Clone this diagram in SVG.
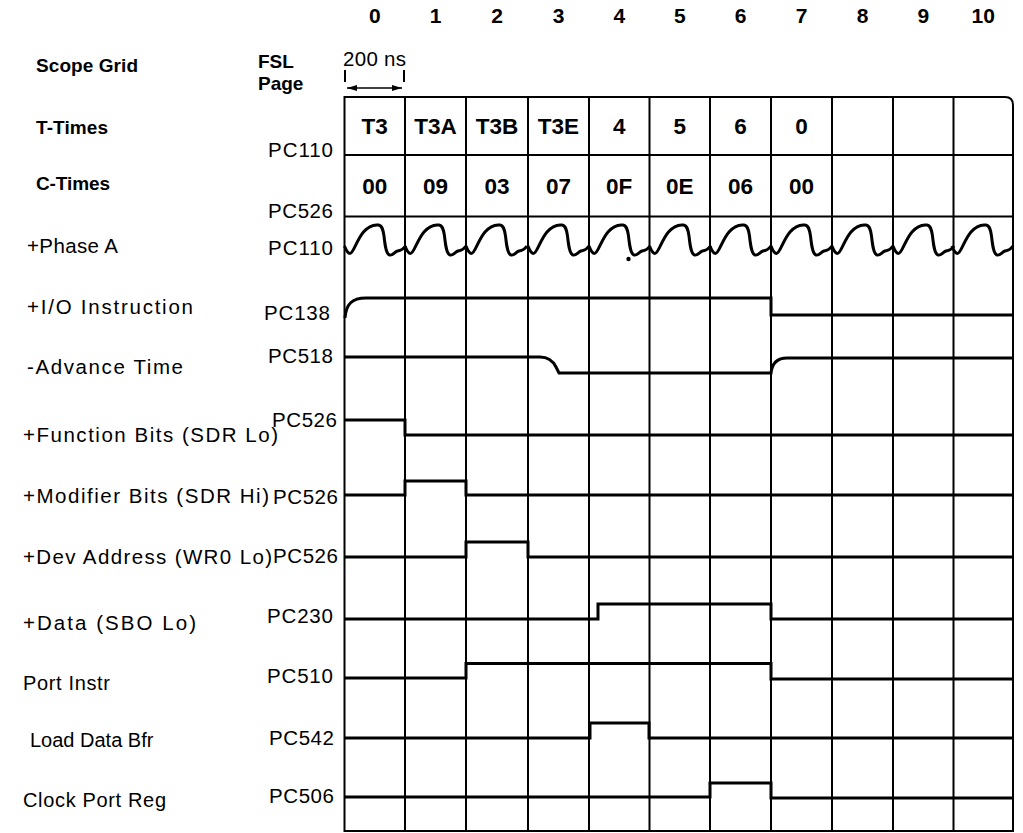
<svg xmlns="http://www.w3.org/2000/svg" xmlns:xlink="http://www.w3.org/1999/xlink" width="1023" height="833" viewBox="0 0 1023 833">
<style>
.grid{stroke:#000;stroke-width:2;fill:none}
.sig{stroke:#000;stroke-width:3;fill:none;stroke-linejoin:miter}
.t{font-family:"Liberation Sans",Arial,Helvetica,sans-serif;font-size:20.5px;fill:#000}
.s{font-size:20px}
.b{font-weight:bold;font-size:19px}
.c{font-family:"Liberation Sans",Arial,Helvetica,sans-serif;font-size:22.5px;font-weight:bold;text-anchor:middle;fill:#000}
.n{font-family:"Liberation Sans",Arial,Helvetica,sans-serif;font-size:21px;font-weight:bold;text-anchor:middle;fill:#000}
</style>
<defs>
<marker id="ah" viewBox="0 0 10 6" refX="10" refY="3" markerWidth="10" markerHeight="6" markerUnits="userSpaceOnUse" orient="auto-start-reverse">
<path d="M0,0 L10,3 L0,6 Z" fill="#000"/>
</marker>
<path id="cyc" class="sig" d="M0,246 C1.5,250 3,253.5 5.5,253.5 C9,253.5 12,240 19,232 C25,225 30,224.5 34,225 C37.5,225.5 38.5,229 39.5,236 C40.5,245 41.5,254 45,255 C48,256 50,252 53,251 C56,250.5 59,249 61,246"/>
</defs>
<rect width="1023" height="833" fill="#fff"/>

<g id="header">
<text class="n" x="374.75" y="23">0</text>
<text class="n" x="435.5" y="23">1</text>
<text class="n" x="497" y="23">2</text>
<text class="n" x="558.5" y="23">3</text>
<text class="n" x="619.25" y="23">4</text>
<text class="n" x="679.75" y="23">5</text>
<text class="n" x="740.5" y="23">6</text>
<text class="n" x="801.5" y="23">7</text>
<text class="n" x="862.5" y="23">8</text>
<text class="n" x="923.25" y="23">9</text>
<text class="n" x="983.25" y="23">10</text>
<text class="t b" x="36" y="72" textLength="102" lengthAdjust="spacing">Scope Grid</text>
<text class="t b" x="258" y="68">FSL</text>
<text class="t b" x="258" y="90">Page</text>
<text class="t" x="343" y="66" textLength="63" lengthAdjust="spacing">200 ns</text>
</g>

<g id="grid">
<path class="grid" d="M344.5,97 H1005 Q1013,97 1013,105 V831 H344.5 Z"/>
<path class="grid" d="M405,97 V831 M466,97 V831 M528,97 V831 M589,97 V831 M649.5,97 V831 M710,97 V831 M771,97 V831 M832,97 V831 M893,97 V831 M953.5,97 V831"/>
<path class="grid" d="M344.5,155 H1013 M344.5,216.5 H1013"/>
</g>

<g id="connectors">
<path class="grid" d="M345,70 V82 M404,70 V82"/>
<path d="M347,88 H402" stroke="#000" stroke-width="1.6" fill="none" marker-start="url(#ah)" marker-end="url(#ah)"/>
</g>

<g id="t-times">
<text class="t b" x="36" y="134" textLength="72" lengthAdjust="spacing">T-Times</text>
<text class="t" x="268" y="157" textLength="65" lengthAdjust="spacing">PC110</text>
<text class="c" x="374.75" y="134">T3</text>
<text class="c" x="435.5" y="134">T3A</text>
<text class="c" x="497" y="134">T3B</text>
<text class="c" x="558.5" y="134">T3E</text>
<text class="c" x="619.25" y="134">4</text>
<text class="c" x="679.75" y="134">5</text>
<text class="c" x="740.5" y="134">6</text>
<text class="c" x="801.5" y="134">0</text>
</g>

<g id="c-times">
<text class="t b" x="36" y="190" textLength="74" lengthAdjust="spacing">C-Times</text>
<text class="t" x="268" y="218" textLength="65" lengthAdjust="spacing">PC526</text>
<text class="c" x="374.75" y="194">00</text>
<text class="c" x="435.5" y="194">09</text>
<text class="c" x="497" y="194">03</text>
<text class="c" x="558.5" y="194">07</text>
<text class="c" x="619.25" y="194">0F</text>
<text class="c" x="679.75" y="194">0E</text>
<text class="c" x="740.5" y="194">06</text>
<text class="c" x="801.5" y="194">00</text>
</g>

<g id="phase-a">
<text class="t" x="27" y="253" textLength="91" lengthAdjust="spacing">+Phase A</text>
<text class="t" x="268" y="255" textLength="65" lengthAdjust="spacing">PC110</text>
<use xlink:href="#cyc" x="344.5"/>
<use xlink:href="#cyc" x="405"/>
<use xlink:href="#cyc" x="466"/>
<use xlink:href="#cyc" x="528"/>
<use xlink:href="#cyc" x="589"/>
<use xlink:href="#cyc" x="649.5"/>
<use xlink:href="#cyc" x="710"/>
<use xlink:href="#cyc" x="771"/>
<use xlink:href="#cyc" x="832"/>
<use xlink:href="#cyc" x="893"/>
<use xlink:href="#cyc" x="952"/>
<circle cx="628.5" cy="259" r="2.2" fill="#000"/>
</g>

<g id="io-instruction">
<text class="t" x="27" y="314" textLength="166" lengthAdjust="spacing">+I/O Instruction</text>
<text class="t" x="264" y="320" textLength="66" lengthAdjust="spacing">PC138</text>
<path class="sig" d="M345,318 C346,304 352,298 366,298 H771 V315 H1013"/>
</g>

<g id="advance-time">
<text class="t" x="27" y="374" textLength="156" lengthAdjust="spacing">-Advance Time</text>
<text class="t" x="268" y="363" textLength="65" lengthAdjust="spacing">PC518</text>
<path class="sig" d="M344.5,357 H540 C548,357 553,361 556,367 L559,373 H771 C772,364 776,358 787,358 H1013"/>
</g>

<g id="function-bits">
<text class="t" x="23" y="442" textLength="255" lengthAdjust="spacing">+Function Bits (SDR Lo)</text>
<text class="t" x="272" y="427" textLength="65" lengthAdjust="spacing">PC526</text>
<path class="sig" d="M344.5,420 H405 V435 H1013"/>
</g>

<g id="modifier-bits">
<text class="t" x="23" y="503" textLength="246" lengthAdjust="spacing">+Modifier Bits (SDR Hi)</text>
<text class="t" x="273" y="504" textLength="65" lengthAdjust="spacing">PC526</text>
<path class="sig" d="M344.5,495 H405 V481 H466 V495 H1013"/>
</g>

<g id="dev-address">
<text class="t" x="23" y="564" textLength="249" lengthAdjust="spacing">+Dev Address (WR0 Lo)</text>
<text class="t" x="273" y="563" textLength="65" lengthAdjust="spacing">PC526</text>
<path class="sig" d="M344.5,557 H466 V542 H528 V557 H1013"/>
</g>

<g id="data">
<text class="t" x="23" y="630" textLength="173" lengthAdjust="spacing">+Data (SBO Lo)</text>
<text class="t" x="267" y="623" textLength="66" lengthAdjust="spacing">PC230</text>
<path class="sig" d="M344.5,619 H598 V604 H771 V619 H1013"/>
</g>

<g id="port-instr">
<text class="t s" x="23" y="690" textLength="87" lengthAdjust="spacing">Port Instr</text>
<text class="t" x="267" y="683" textLength="66" lengthAdjust="spacing">PC510</text>
<path class="sig" d="M344.5,678 H466 V663.5 H771 V679 H1013"/>
</g>

<g id="load-data-bfr">
<text class="t s" x="30" y="747">Load Data Bfr</text>
<text class="t" x="269" y="745" textLength="65" lengthAdjust="spacing">PC542</text>
<path class="sig" d="M344.5,738 H590 V723 H649 V738 H1013"/>
</g>

<g id="clock-port-reg">
<text class="t s" x="23" y="807" textLength="143" lengthAdjust="spacing">Clock Port Reg</text>
<text class="t" x="269" y="803" textLength="65" lengthAdjust="spacing">PC506</text>
<path class="sig" d="M344.5,797 H710 V783 H771 V798 H1013"/>
</g>
</svg>
